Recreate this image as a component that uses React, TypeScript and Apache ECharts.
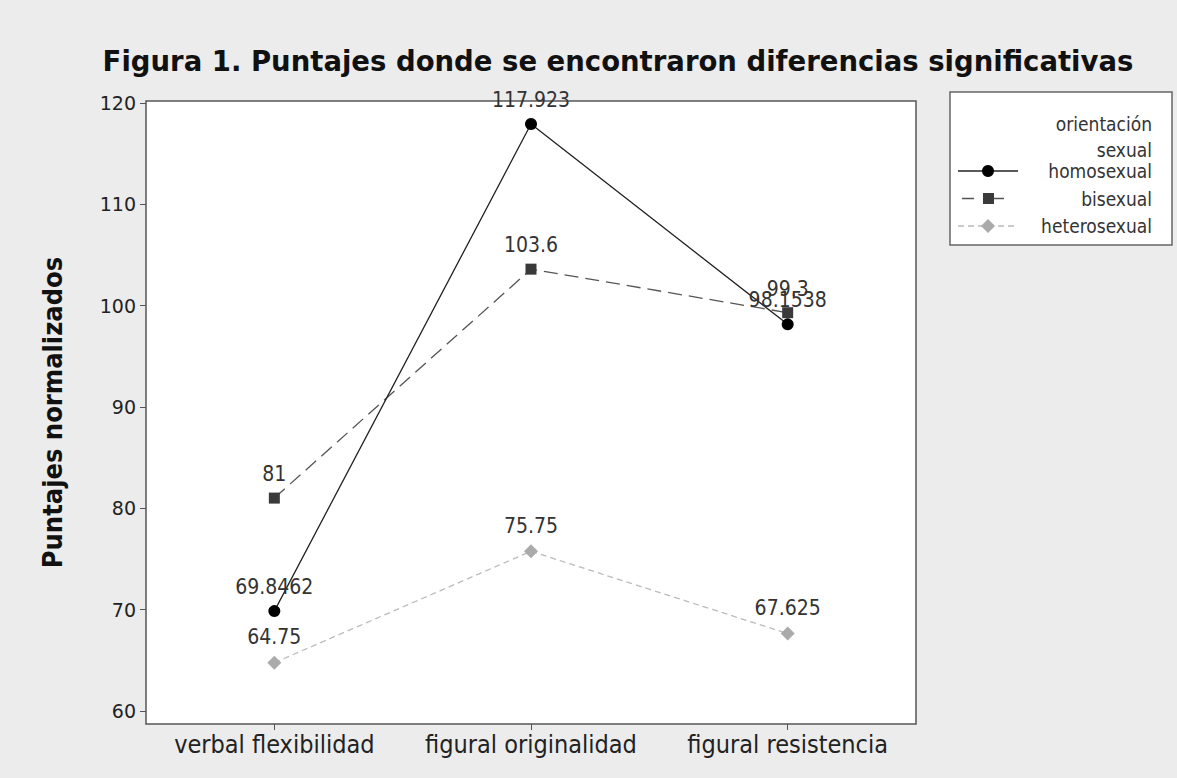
import React, { useEffect, useRef } from "react";
import * as echarts from "echarts";

const categories = ["verbal flexibilidad", "figural originalidad", "figural resistencia"];
const homosexual = [69.8462, 117.923, 98.1538];
const bisexual = [81, 103.6, 99.3];
const heterosexual = [64.75, 75.75, 67.625];
const yTicks = [60, 70, 80, 90, 100, 110, 120];
const legendTitle = ["orientación", "sexual"];
const seriesNames = ["homosexual", "bisexual", "heterosexual"];

const FONT = "DejaVu Sans";
const FONT_C = "DejaVu Sans Condensed";

export default function App() {
  const ref = useRef<HTMLDivElement>(null);
  useEffect(() => {
    document.body.style.margin = "0";
    const chart = echarts.init(ref.current!, null, { renderer: "svg" });
    const labelStyle = {
      show: true,
      position: "top" as const,
      distance: 8,
      fontFamily: FONT_C,
      fontSize: 21,
      color: "#333",
      formatter: (p: any) => String(p.value),
    };
    const lx = 950, ly = 92;
    chart.setOption({
      animation: false,
      backgroundColor: "#ececec",
      title: {
        text: "Figura 1. Puntajes donde se encontraron diferencias significativas",
        left: 613,
        textAlign: "center",
        top: 42,
        textStyle: { fontFamily: FONT, fontWeight: "bold", fontSize: 27.5, color: "#111" },
      },
      grid: {
        left: 146,
        right: 261,
        top: 101,
        bottom: 54,
        show: true,
        backgroundColor: "#fff",
        borderColor: "#555",
        borderWidth: 1.5,
      },
      xAxis: {
        type: "category",
        data: categories,
        boundaryGap: true,
        axisLine: { show: false },
        axisTick: { show: true, alignWithLabel: true, length: 6, lineStyle: { color: "#555" } },
        axisLabel: { interval: 0, hideOverlap: false, fontFamily: FONT_C, fontSize: 25, color: "#222", margin: 8 },
        splitLine: { show: false },
      },
      yAxis: {
        type: "value",
        min: 58.7,
        max: 120.2,
        name: "Puntajes normalizados",
        nameLocation: "middle",
        nameGap: 80,
        nameTextStyle: { fontFamily: FONT_C, fontWeight: "bold", fontSize: 27, color: "#111" },
        axisLine: { show: false },
        axisTick: { show: true, customValues: yTicks, length: 6, lineStyle: { color: "#555" } },
        axisLabel: { customValues: yTicks, fontFamily: FONT, fontSize: 19, color: "#222", margin: 10 },
        splitLine: { show: false },
      },
      series: [
        {
          name: seriesNames[0],
          type: "line",
          data: homosexual,
          symbol: "circle",
          symbolSize: 12,
          itemStyle: { color: "#000" },
          lineStyle: { color: "#222", width: 1.3 },
          label: labelStyle,
          z: 3,
        },
        {
          name: seriesNames[1],
          type: "line",
          data: bisexual,
          symbol: "rect",
          symbolSize: 11,
          itemStyle: { color: "#3a3a3a" },
          lineStyle: { color: "#555", width: 1.3, type: [14, 7] },
          label: labelStyle,
          z: 2,
        },
        {
          name: seriesNames[2],
          type: "line",
          data: heterosexual,
          symbol: "diamond",
          symbolSize: 14,
          itemStyle: { color: "#aaa" },
          lineStyle: { color: "#bbb", width: 1.3, type: [6, 4] },
          label: labelStyle,
          z: 1,
        },
      ],
      graphic: [
        {
          type: "rect",
          shape: { x: lx, y: ly, width: 222, height: 153 },
          style: { fill: "#fff", stroke: "#666", lineWidth: 1.5 },
        },
        ...legendTitle.map((t, i) => ({
          type: "text",
          x: 1152,
          y: 124 + i * 26,
          style: { text: t, fontFamily: FONT_C, fontSize: 19, fill: "#333", align: "right", verticalAlign: "middle" },
        })),
        ...seriesNames.map((t, i) => ({
          type: "text",
          x: 1152,
          y: 171 + i * 27.5,
          style: { text: t, fontFamily: FONT_C, fontSize: 19, fill: "#333", align: "right", verticalAlign: "middle" },
        })),
        { type: "line", shape: { x1: 958, y1: 171, x2: 1018, y2: 171 }, style: { stroke: "#222", lineWidth: 1.3 } },
        { type: "circle", shape: { cx: 988, cy: 171, r: 6 }, style: { fill: "#000" } },
        { type: "line", shape: { x1: 962, y1: 198.5, x2: 1014, y2: 198.5 }, style: { stroke: "#555", lineWidth: 1.3, lineDash: [12, 18] } },
        { type: "rect", shape: { x: 983, y: 193, width: 11, height: 11 }, style: { fill: "#3a3a3a" } },
        { type: "line", shape: { x1: 958, y1: 226, x2: 1018, y2: 226 }, style: { stroke: "#bbb", lineWidth: 1.3, lineDash: [6, 4] } },
        { type: "polygon", shape: { points: [[988, 219], [995, 226], [988, 233], [981, 226]] }, style: { fill: "#aaa" } },
      ],
    });
    return () => chart.dispose();
  }, []);
  return <div ref={ref} style={{ width: 1177, height: 778 }} />;
}
